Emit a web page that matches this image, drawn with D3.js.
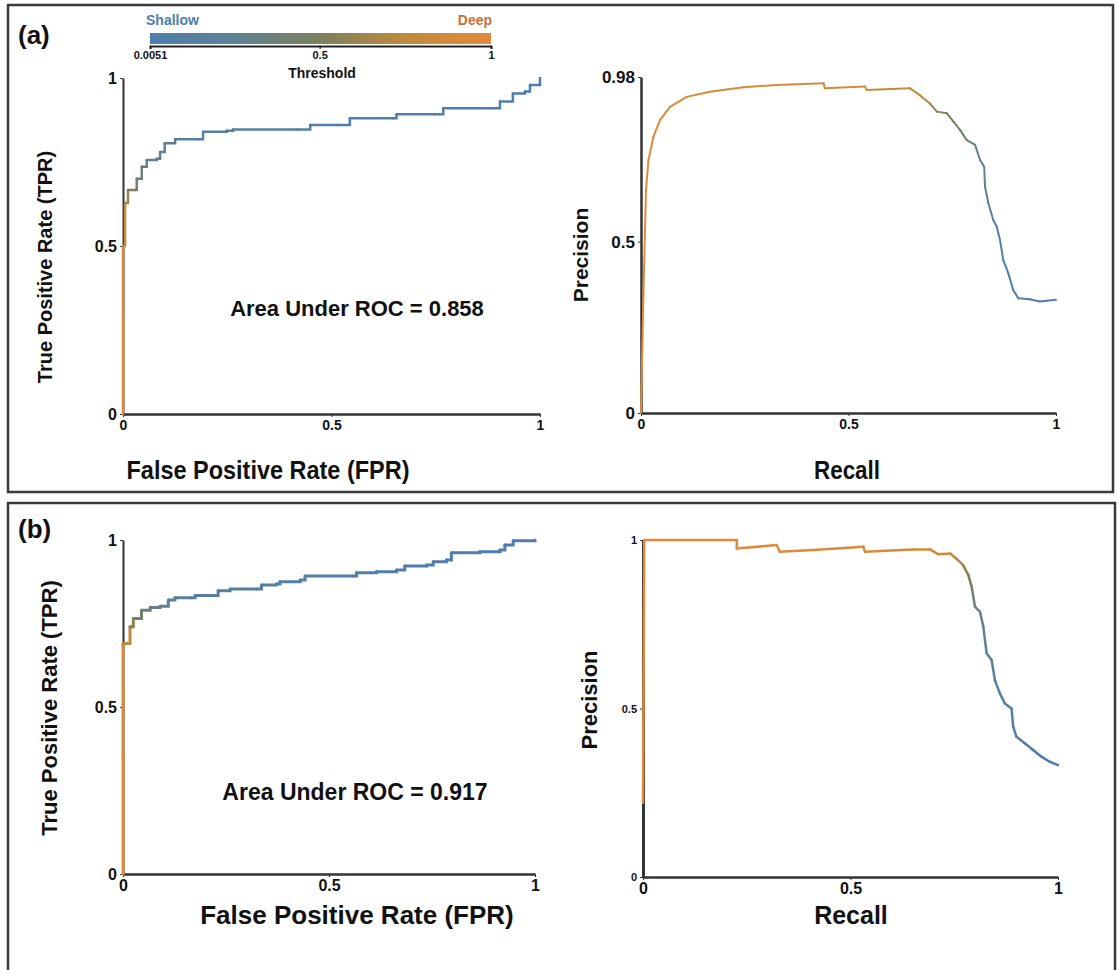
<!DOCTYPE html>
<html>
<head>
<meta charset="utf-8">
<script src="https://cdn.jsdelivr.net/npm/d3@7"></script>
<style>
  body { margin: 0; background: #fff; }
  svg { display: block; }
  text { font-family: "Liberation Sans", Arial, sans-serif; font-weight: bold; fill: #111; }
</style>
</head>
<body>
<div id="chart"></div>
<script>
// threshold colour bar
const thrTicks = [0.0051, 0.5, 1];
const thrTickLabels = ["0.0051", "0.5", "1"];

// (a) ROC curve
const rocA_fpr = [0, 0, 0, 0.005, 0.012, 0.029, 0.033, 0.045, 0.057, 0.081, 0.089, 0.10, 0.125, 0.177, 0.192, 0.249, 0.264, 0.42, 0.449, 0.516, 0.544, 0.648, 0.656, 0.748, 0.768, 0.876, 0.904, 0.935, 0.964, 0.976, 1];
const rocA_tpr = [0, 0.3, 0.5, 0.628, 0.667, 0.667, 0.70, 0.736, 0.756, 0.76, 0.78, 0.806, 0.818, 0.818, 0.84, 0.843, 0.847, 0.847, 0.86, 0.86, 0.88, 0.88, 0.892, 0.892, 0.91, 0.91, 0.93, 0.954, 0.96, 0.979, 1];
const rocA_thr = [1, 0.95, 0.8, 0.6, 0.5, 0.45, 0.4, 0.35, 0.3, 0.27, 0.24, 0.2, 0.17, 0.15, 0.13, 0.12, 0.11, 0.1, 0.09, 0.08, 0.07, 0.06, 0.05, 0.04, 0.035, 0.03, 0.02, 0.015, 0.01, 0.008, 0.0051];

// (a) precision-recall curve
const prA_recall = [0, 0.006, 0.012, 0.018, 0.03, 0.046, 0.07, 0.11, 0.166, 0.247, 0.327, 0.44, 0.443, 0.54, 0.544, 0.648, 0.672, 0.696, 0.713, 0.737, 0.753, 0.769, 0.785, 0.805, 0.817, 0.827, 0.829, 0.837, 0.849, 0.857, 0.865, 0.873, 0.885, 0.897, 0.909, 0.937, 0.961, 1];
const prA_precision = [0, 0.35, 0.65, 0.738, 0.806, 0.855, 0.893, 0.922, 0.937, 0.95, 0.957, 0.962, 0.947, 0.952, 0.942, 0.947, 0.927, 0.903, 0.879, 0.874, 0.85, 0.825, 0.796, 0.782, 0.738, 0.718, 0.66, 0.612, 0.563, 0.544, 0.505, 0.446, 0.408, 0.359, 0.335, 0.332, 0.325, 0.33];
const prA_thr = [1, 1, 0.99, 0.98, 0.97, 0.96, 0.95, 0.94, 0.93, 0.92, 0.9, 0.88, 0.86, 0.84, 0.82, 0.78, 0.7, 0.6, 0.55, 0.5, 0.45, 0.4, 0.36, 0.32, 0.28, 0.25, 0.22, 0.2, 0.17, 0.15, 0.13, 0.11, 0.09, 0.07, 0.05, 0.03, 0.015, 0.0051];

// (b) ROC curve
const rocB_fpr = [0, 0, 0, 0.017, 0.025, 0.045, 0.066, 0.09, 0.11, 0.126, 0.166, 0.175, 0.219, 0.231, 0.26, 0.324, 0.336, 0.372, 0.381, 0.43, 0.442, 0.559, 0.567, 0.615, 0.664, 0.684, 0.737, 0.753, 0.785, 0.797, 0.866, 0.915, 0.927, 0.947, 1];
const rocB_tpr = [0, 0.35, 0.69, 0.74, 0.765, 0.79, 0.798, 0.802, 0.82, 0.827, 0.827, 0.834, 0.834, 0.848, 0.853, 0.853, 0.865, 0.868, 0.875, 0.88, 0.892, 0.892, 0.902, 0.905, 0.91, 0.922, 0.925, 0.935, 0.94, 0.962, 0.965, 0.97, 0.985, 0.998, 1];
const rocB_thr = [1, 0.95, 0.75, 0.55, 0.45, 0.35, 0.28, 0.24, 0.2, 0.18, 0.16, 0.15, 0.14, 0.13, 0.12, 0.11, 0.1, 0.09, 0.085, 0.08, 0.07, 0.06, 0.055, 0.05, 0.045, 0.04, 0.035, 0.03, 0.025, 0.02, 0.015, 0.012, 0.01, 0.008, 0.0051];

// (b) precision-recall curve
const prB_recall = [0, 0.003, 0.226, 0.226, 0.322, 0.33, 0.41, 0.531, 0.535, 0.651, 0.692, 0.711, 0.74, 0.755, 0.771, 0.784, 0.792, 0.8, 0.812, 0.82, 0.828, 0.84, 0.848, 0.86, 0.872, 0.888, 0.892, 0.9, 0.92, 0.94, 0.96, 0.98, 1];
const prB_precision = [0.22, 1, 1, 0.975, 0.985, 0.965, 0.97, 0.98, 0.965, 0.972, 0.972, 0.958, 0.96, 0.945, 0.926, 0.896, 0.861, 0.802, 0.787, 0.743, 0.664, 0.644, 0.584, 0.545, 0.515, 0.5, 0.446, 0.416, 0.397, 0.377, 0.357, 0.342, 0.332];
const prB_thr = [1, 1, 0.99, 0.98, 0.97, 0.96, 0.95, 0.94, 0.93, 0.92, 0.9, 0.85, 0.8, 0.7, 0.6, 0.5, 0.42, 0.35, 0.3, 0.26, 0.22, 0.19, 0.16, 0.14, 0.12, 0.1, 0.08, 0.06, 0.045, 0.03, 0.02, 0.01, 0.0051];

const W = 1118, H = 970;
const svg = d3.select("#chart").append("svg")
    .attr("width", W).attr("height", H);

// shallow (low threshold) -> deep (high threshold)
const thrColor = d3.scaleLinear()
    .domain([0.0051, 0.25, 0.5, 0.75, 1])
    .range(["#4d7db0", "#5f8194", "#7a805c", "#c08a3c", "#e28a3a"]);

// panel frames
svg.append("rect").attr("x", 8).attr("y", 5).attr("width", 1105).attr("height", 487)
    .attr("fill", "none").attr("stroke", "#3a3a3a").attr("stroke-width", 2.5);
svg.append("rect").attr("x", 8).attr("y", 503).attr("width", 1107).attr("height", 480)
    .attr("fill", "none").attr("stroke", "#3a3a3a").attr("stroke-width", 2.5);

svg.append("text").attr("x", 18).attr("y", 44).attr("font-size", 26).text("(a)");
svg.append("text").attr("x", 18).attr("y", 538).attr("font-size", 26).text("(b)");

// colour bar
const cbX = d3.scaleLinear().domain([0.0051, 1]).range([150, 491]);
const grad = svg.append("defs").append("linearGradient").attr("id", "thrGrad");
d3.range(0, 1.0001, 0.125).forEach(t => {
    const v = 0.0051 + t * (1 - 0.0051);
    grad.append("stop").attr("offset", `${t * 100}%`).attr("stop-color", thrColor(v));
});
svg.append("rect").attr("x", 150).attr("y", 33).attr("width", 341).attr("height", 11)
    .attr("fill", "url(#thrGrad)");
const cbAxis = svg.append("g").attr("transform", "translate(0,46)")
    .call(d3.axisBottom(cbX).tickValues(thrTicks).tickFormat((d, i) => thrTickLabels[i]).tickSize(3));
cbAxis.select(".domain").attr("stroke", "#222").attr("stroke-width", 2);
cbAxis.selectAll("text").attr("font-size", 11).attr("dy", "0.6em").style("fill", "#111");
svg.append("text").attr("x", 322).attr("y", 78).attr("text-anchor", "middle").attr("font-size", 14).text("Threshold");
svg.append("text").attr("x", 146).attr("y", 25).attr("font-size", 14).style("fill", "#4f7ea8").text("Shallow");
svg.append("text").attr("x", 492).attr("y", 25).attr("text-anchor", "end").attr("font-size", 14).style("fill", "#c8703a").text("Deep");

function drawPanel(cfg) {
    const x = d3.scaleLinear().domain([0, 1]).range(cfg.xr);
    const y = d3.scaleLinear().domain([0, cfg.ymax]).range(cfg.yr);
    const g = svg.append("g");

    const xa = g.append("g").attr("transform", `translate(0,${cfg.yr[0]})`)
        .call(d3.axisBottom(x).tickValues([0, 0.5, 1]).tickFormat(d3.format("")).tickSize(3).tickSizeOuter(0));
    xa.select(".domain").attr("stroke", "#333").attr("stroke-width", 2.5);
    xa.selectAll("line").attr("stroke", "#333");
    xa.selectAll("text").attr("font-size", cfg.xtf).style("fill", "#111");

    const ya = g.append("g").attr("transform", `translate(${cfg.xr[0]},0)`)
        .call(d3.axisLeft(y).tickValues(cfg.yticks).tickFormat(d3.format("")).tickSize(3).tickSizeOuter(0));
    ya.select(".domain").attr("stroke", "#333").attr("stroke-width", cfg.yw);
    ya.selectAll("line").attr("stroke", "#333");
    ya.selectAll("text").attr("font-size", cfg.ytf).style("fill", "#111");

    const line = d3.line().x(d => x(d[0])).y(d => y(d[1])).curve(cfg.curve);
    const pts = cfg.xs.map((v, i) => [v, cfg.ys[i], cfg.thr[i]]);
    for (let i = 0; i < pts.length - 1; i++) {
        g.append("path")
            .attr("d", line([pts[i], pts[i + 1]]))
            .attr("fill", "none")
            .attr("stroke", thrColor(pts[i][2]))
            .attr("stroke-width", cfg.lw)
            .attr("stroke-linecap", "round");
    }

    g.append("text")
        .attr("x", cfg.xlab[0]).attr("y", cfg.xlab[1]).attr("text-anchor", "middle")
        .attr("font-size", cfg.labfs).text(cfg.xtitle)
        .call(t => { if (cfg.xlen) t.attr("textLength", cfg.xlen).attr("lengthAdjust", "spacingAndGlyphs"); });
    g.append("text")
        .attr("transform", `translate(${cfg.ylab[0]},${cfg.ylab[1]}) rotate(-90)`)
        .attr("text-anchor", "middle").attr("font-size", cfg.ylabfs).text(cfg.ytitle);
    if (cfg.note) {
        g.append("text").attr("x", cfg.note[0]).attr("y", cfg.note[1]).attr("text-anchor", "middle")
            .attr("font-size", cfg.notefs).text(cfg.noteText);
    }
}

drawPanel({
    xr: [123, 540], yr: [414, 78], ymax: 1, yticks: [0, 0.5, 1], curve: d3.curveStepAfter,
    xs: rocA_fpr, ys: rocA_tpr, thr: rocA_thr, lw: 2.5, yw: 2, xtf: 14, ytf: 16,
    xtitle: "False Positive Rate (FPR)", xlab: [268, 479], labfs: 26, xlen: 283,
    ytitle: "True Positive Rate (TPR)", ylab: [52, 267], ylabfs: 20,
    note: [357, 316], noteText: "Area Under ROC = 0.858", notefs: 22
});
drawPanel({
    xr: [641, 1056], yr: [413, 77], ymax: 0.98, yticks: [0, 0.5, 0.98], curve: d3.curveLinear,
    xs: prA_recall, ys: prA_precision, thr: prA_thr, lw: 2, yw: 2.5, xtf: 14, ytf: 17,
    xtitle: "Recall", xlab: [847, 479], labfs: 26, xlen: 66,
    ytitle: "Precision", ylab: [588, 255], ylabfs: 21
});
drawPanel({
    xr: [123, 535], yr: [874, 540], ymax: 1, yticks: [0, 0.5, 1], curve: d3.curveStepAfter,
    xs: rocB_fpr, ys: rocB_tpr, thr: rocB_thr, lw: 3, yw: 2, xtf: 16, ytf: 16,
    xtitle: "False Positive Rate (FPR)", xlab: [357, 924], labfs: 26,
    ytitle: "True Positive Rate (TPR)", ylab: [57, 708], ylabfs: 22,
    note: [355, 800], noteText: "Area Under ROC = 0.917", notefs: 23
});
drawPanel({
    xr: [643, 1058], yr: [877, 540], ymax: 1, yticks: [0, 0.5, 1], curve: d3.curveLinear,
    xs: prB_recall, ys: prB_precision, thr: prB_thr, lw: 2.5, yw: 3, xtf: 16, ytf: 11,
    xtitle: "Recall", xlab: [851, 924], labfs: 25,
    ytitle: "Precision", ylab: [597, 700], ylabfs: 22
});
</script>
</body>
</html>
